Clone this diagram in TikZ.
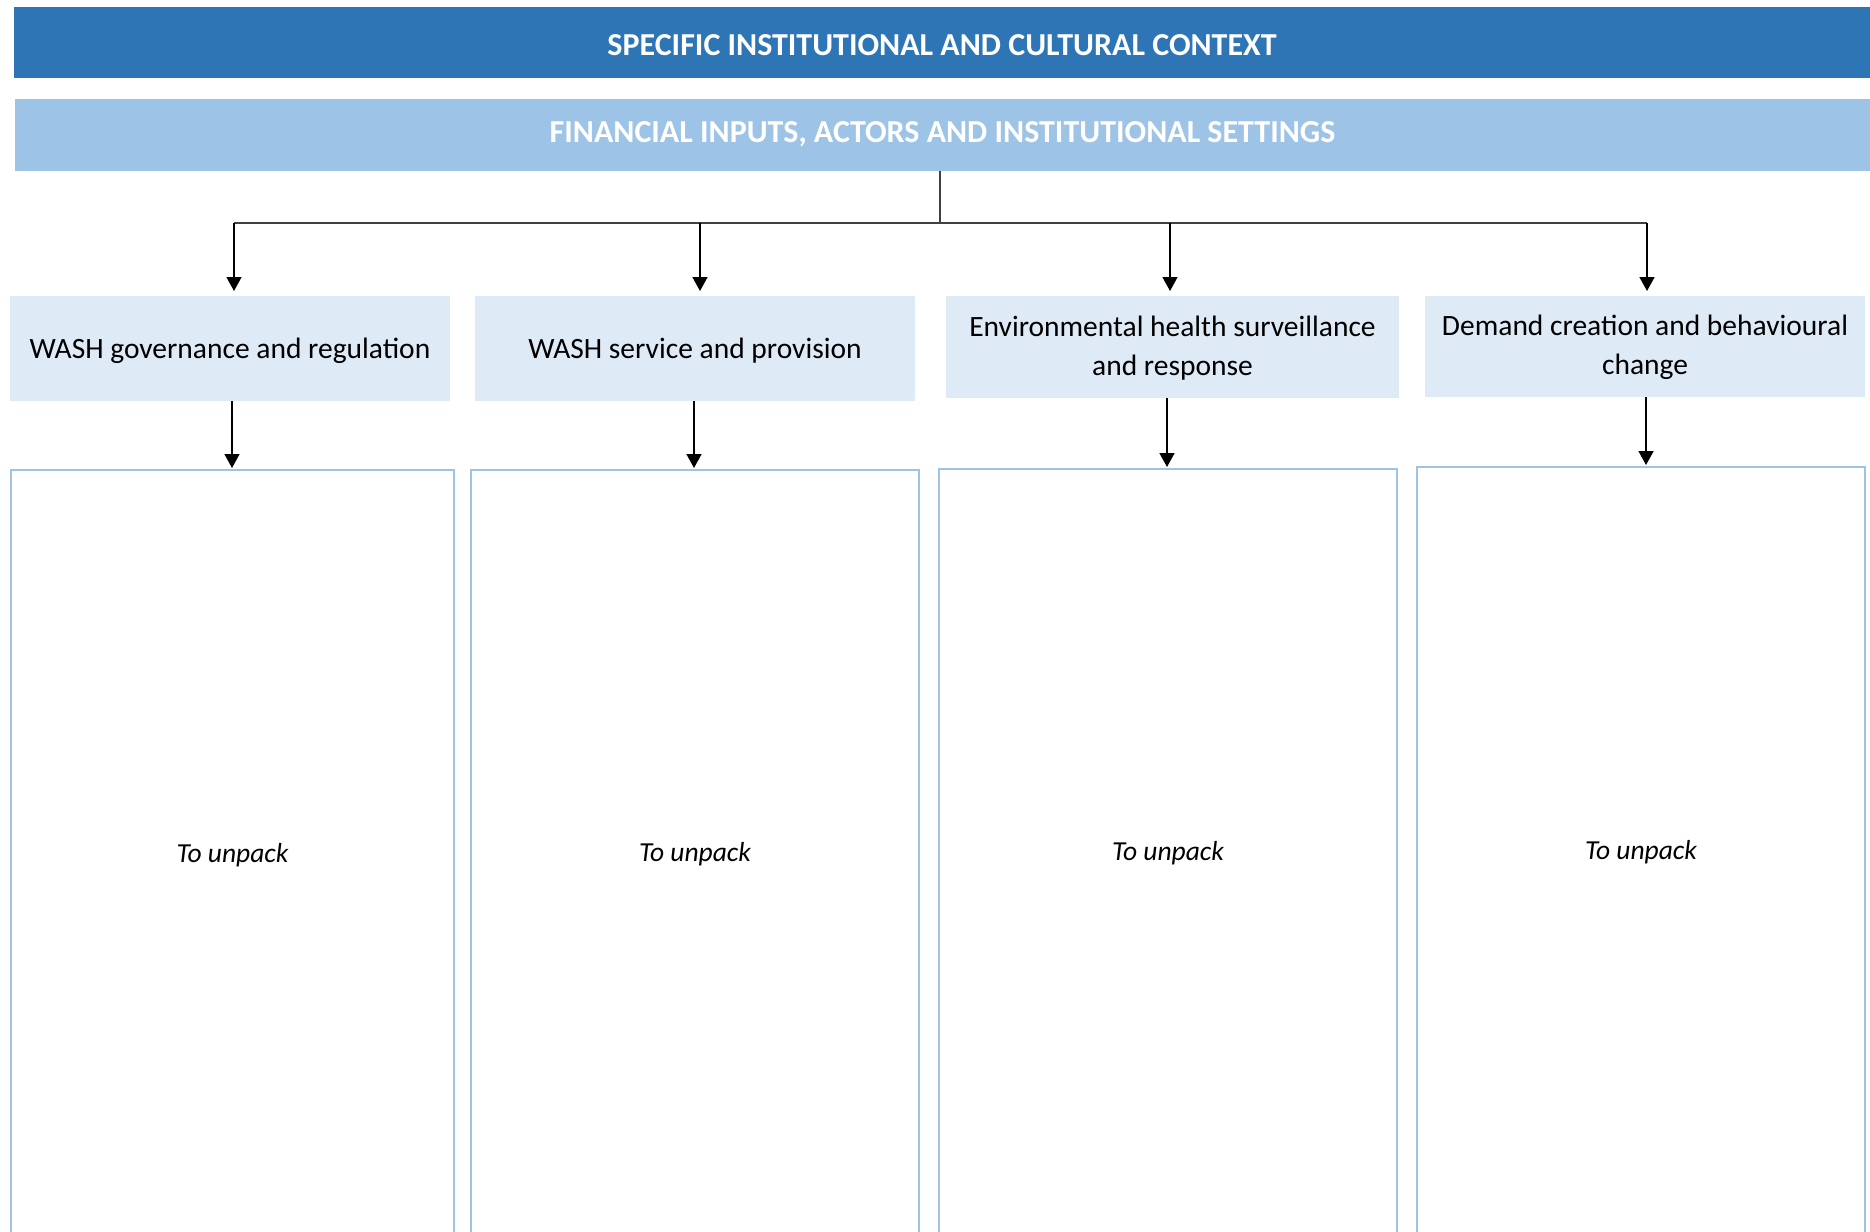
\documentclass[tikz,border=0pt]{standalone}
\usepackage{fontspec}
\setmainfont{Carlito}
\usetikzlibrary{arrows.meta,calc}
\definecolor{darkbar}{HTML}{2E75B6}
\definecolor{lightbar}{HTML}{9DC3E6}
\definecolor{rowfill}{HTML}{DEEAF6}
\definecolor{linegrey}{HTML}{404040}
\newcommand{\mydown}[2]{\raisebox{-#1}[\height][\depth]{#2}}
\tikzset{
  bar/.style={inner sep=0pt, outer sep=0pt, text=white, font=\fontsize{32}{36}\selectfont\bfseries},
  rowbox/.style={fill=rowfill, inner sep=0pt, outer sep=0pt, align=center, font=\fontsize{29.5}{39}\selectfont},
  unpackbox/.style={draw=lightbar, line width=2pt, fill=white, inner sep=0pt, outer sep=0pt, font=\fontsize{27.5}{32}\selectfont\itshape},
  conn/.style={draw=linegrey, line width=1.8pt},
  arr/.style={draw=black, line width=1.5pt, -{Triangle[width=15pt,length=14pt]}},
}
\begin{document}
\begin{tikzpicture}[x=1pt,y=-1pt]
\useasboundingbox (0,0) rectangle (1870,1231);
\clip (0,0) rectangle (1870,1231);
% bars
\node[bar, fill=darkbar, minimum width=1856pt, minimum height=71pt] (ctx) at (942,42.5) {\mydown{2.5pt}{SPECIFIC INSTITUTIONAL AND CULTURAL CONTEXT}};
\node[bar, fill=lightbar, minimum width=1855pt, minimum height=72pt] (fin) at (942.5,135) {\mydown{-1pt}{FINANCIAL INPUTS, ACTORS AND INSTITUTIONAL SETTINGS}};
% row boxes
\node[rowbox, minimum width=440pt, minimum height=105pt] (b1) at (230,348.5) {\mydown{2.5pt}{WASH governance and regulation}};
\node[rowbox, minimum width=440pt, minimum height=105pt] (b2) at (695,348.5) {\mydown{2.5pt}{WASH service and provision}};
\node[rowbox, minimum width=453pt, minimum height=102pt] (b3) at (1172.5,347) {\mydown{1.2pt}{\begin{tabular}{@{}c@{}}Environmental health surveillance\\and response\end{tabular}}};
\node[rowbox, minimum width=440pt, minimum height=101pt] (b4) at (1645,346.5) {\mydown{1pt}{\begin{tabular}{@{}c@{}}Demand creation and behavioural\\change\end{tabular}}};
% lower boxes
\node[unpackbox, minimum width=443pt, minimum height=766pt] (l1) at (232.5,853) {\mydown{2pt}{To unpack}};
\node[unpackbox, minimum width=448pt, minimum height=766pt] (l2) at (695,853) {\mydown{1pt}{To unpack}};
\node[unpackbox, minimum width=458pt, minimum height=768pt] (l3) at (1168,853) {To unpack};
\node[unpackbox, minimum width=448pt, minimum height=772pt] (l4) at (1641,853) {\mydown{-1pt}{To unpack}};
% distribution connector
\coordinate (j0) at (940,223);
\coordinate (j1) at (234,223);
\coordinate (j2) at (700,223);
\coordinate (j3) at (1170,223);
\coordinate (j4) at (1647,223);
\draw[conn] (fin.south -| j0) -- (j0);
\draw[conn] (j1) -- (j4);
\draw[arr, shorten >=5pt] (j1) -- (j1 |- b1.north);
\draw[arr, shorten >=5pt] (j2) -- (j2 |- b2.north);
\draw[arr, shorten >=5pt] (j3) -- (j3 |- b3.north);
\draw[arr, shorten >=5pt] (j4) -- (j4 |- b4.north);
% down arrows
\draw[arr, shorten >=2pt] (b1.south -| 232,0) -- (l1.north -| 232,0);
\draw[arr, shorten >=2pt] (b2.south -| 694,0) -- (l2.north -| 694,0);
\draw[arr, shorten >=2pt] (b3.south -| 1167,0) -- (l3.north -| 1167,0);
\draw[arr, shorten >=2pt] (b4.south -| 1646,0) -- (l4.north -| 1646,0);
\end{tikzpicture}
\end{document}
